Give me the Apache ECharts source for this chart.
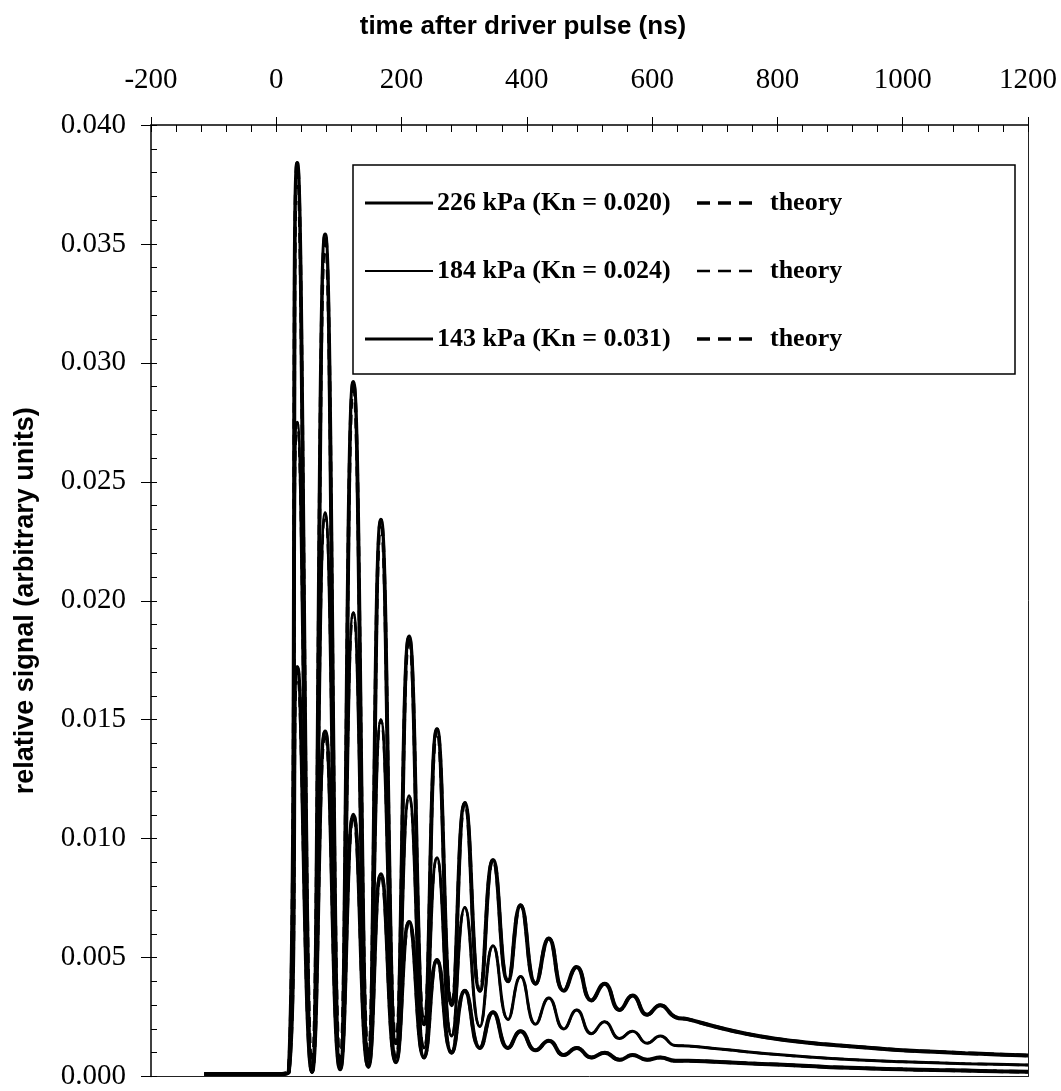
<!DOCTYPE html>
<html>
<head>
<meta charset="utf-8">
<script src="https://cdn.jsdelivr.net/npm/echarts@6/dist/echarts.min.js"></script>
<style>
html,body{margin:0;padding:0;background:#fff;}
#chart{width:1061px;height:1091px;}
</style>
</head>
<body>
<div id="chart"></div>
<script>
// time after driver pulse (ns)
const timeNs = [-115, -60, 0, 20, 33.5, 57, 78, 102, 123, 147, 167, 191, 212, 236, 256.5, 280, 301, 325, 346, 370,
  390, 414, 435, 459, 479.5, 503, 524, 548, 568.7, 592, 613, 637, 658, 700, 750, 800, 850, 900, 950, 1000,
  1050, 1100, 1150, 1200];
// measured relative signal
const sig226 = [0.0001, 0.0001, 0.0001, 0.0002, 0.0384, 0.0002, 0.0354, 0.0004, 0.0292, 0.0008, 0.0234, 0.0014, 0.0185, 0.0022, 0.0146, 0.0030, 0.0115, 0.0036, 0.0091, 0.0040,
  0.0072, 0.0039, 0.0058, 0.0036, 0.0046, 0.0032, 0.0039, 0.0028, 0.0034, 0.0026, 0.0030, 0.0025, 0.0024, 0.0021, 0.0018, 0.00158, 0.00142, 0.0013, 0.0012, 0.0011,
  0.00104, 0.00098, 0.00093, 0.00088];
const sig184 = [0.0001, 0.0001, 0.0001, 0.0002, 0.0275, 0.0002, 0.0237, 0.0003, 0.0195, 0.0005, 0.0150, 0.0008, 0.0118, 0.0012, 0.0092, 0.0017, 0.0071, 0.0021, 0.0055, 0.0024,
  0.0042, 0.0022, 0.0033, 0.0020, 0.0028, 0.0018, 0.0023, 0.0016, 0.0019, 0.0014, 0.0017, 0.0013, 0.00128, 0.00118, 0.00104, 0.00092, 0.00082, 0.00074, 0.00067, 0.00062,
  0.00058, 0.00054, 0.00051, 0.00048];
const sig143 = [0.0001, 0.0001, 0.0001, 0.0002, 0.0172, 0.0002, 0.0145, 0.0003, 0.0110, 0.0004, 0.0085, 0.0006, 0.0065, 0.0008, 0.0049, 0.0010, 0.0036, 0.0012, 0.0027, 0.0012,
  0.0019, 0.0011, 0.0015, 0.0009, 0.0012, 0.0008, 0.0010, 0.0007, 0.0009, 0.0007, 0.0008, 0.00066, 0.00066, 0.00062, 0.00056, 0.0005, 0.00044, 0.00038, 0.00034, 0.0003,
  0.00027, 0.00025, 0.00022, 0.0002];
// theory curves coincide with the measurements (drawn from t = 0)
const theory226 = sig226;
const theory184 = sig184;
const theory143 = sig143;
const theoryStart = 2;

const legendLabels = ['226 kPa (Kn = 0.020)', '184 kPa (Kn = 0.024)', '143 kPa (Kn = 0.031)'];
const theoryLabel = 'theory';
const xTitle = 'time after driver pulse (ns)';
const yTitle = 'relative signal (arbitrary units)';

const pairs = (ys, from) => timeNs.slice(from || 0).map((t, i) => [t, ys[i + (from || 0)]]);

const chart = echarts.init(document.getElementById('chart'), null, {renderer: 'canvas'});
const serif = 'Liberation Serif';
const sans = 'Liberation Sans';
const black = '#000';

function lineSeries(name, ys, width, dashed, from) {
  return {
    name: name, type: 'line', data: pairs(ys, from), xAxisIndex: 0, yAxisIndex: 0,
    showSymbol: false, symbol: 'none', smooth: 0.5, animation: false, silent: true,
    lineStyle: {color: black, width: width, type: dashed ? [10, 6] : 'solid'},
    z: dashed ? 4 : 3
  };
}

const rows = [203, 271, 339];
const widths = [3, 1.8, 3];
const graphics = [
  {type: 'rect', shape: {x: 353, y: 165, width: 662, height: 209}, style: {fill: '#fff', stroke: black, lineWidth: 1.5}, z: 10}
];
rows.forEach((y, i) => {
  graphics.push({type: 'line', shape: {x1: 365, y1: y, x2: 433, y2: y}, style: {stroke: black, lineWidth: widths[i]}, z: 11});
  graphics.push({type: 'text', x: 437, y: y, style: {text: legendLabels[i], font: 'bold 26px "' + serif + '"', fill: black, textVerticalAlign: 'middle', textAlign: 'left'}, z: 11});
  graphics.push({type: 'line', shape: {x1: 697, y1: y, x2: 752, y2: y}, style: {stroke: black, lineWidth: widths[i] + 0.5, lineDash: [13, 8]}, z: 11});
  graphics.push({type: 'text', x: 770, y: y, style: {text: theoryLabel, font: 'bold 26px "' + serif + '"', fill: black, textVerticalAlign: 'middle', textAlign: 'left'}, z: 11});
});
graphics.push({type: 'text', x: 523, y: 27, style: {text: xTitle, font: 'bold 26px "' + sans + '"', fill: black, textAlign: 'center', textVerticalAlign: 'middle'}, z: 11});

const noZero = extra => Object.assign({show: true, onZero: false}, extra);

const option = {
  backgroundColor: '#fff',
  animation: false,
  grid: {left: 151, right: 33, top: 125, bottom: 12, containLabel: false},
  xAxis: [
    {type: 'value', position: 'top', min: -200, max: 1200, interval: 200,
      axisLine: noZero({lineStyle: {color: black, width: 1.5}}),
      axisTick: {show: true, inside: true, length: 7, lineStyle: {color: black, width: 1}},
      minorTick: {show: true, splitNumber: 5, length: 7, lineStyle: {color: black, width: 1}},
      splitLine: {show: false}, minorSplitLine: {show: false},
      axisLabel: {show: true, margin: 30, color: black, fontFamily: serif, fontSize: 29,
        formatter: v => String(v)}
    },
    {type: 'value', position: 'top', min: -200, max: 1200, interval: 200,
      axisLine: noZero({show: false}),
      axisTick: {show: true, inside: false, length: 8, lineStyle: {color: black, width: 1}},
      splitLine: {show: false}, axisLabel: {show: false}
    },
    {type: 'value', position: 'bottom', min: -200, max: 1200, interval: 200,
      axisLine: noZero({lineStyle: {color: '#222', width: 1}}), axisTick: {show: false},
      splitLine: {show: false}, axisLabel: {show: false}
    }
  ],
  yAxis: [
    {type: 'value', position: 'left', min: 0, max: 0.04, interval: 0.005,
      name: yTitle, nameLocation: 'middle', nameRotate: 90, nameGap: 112,
      nameTextStyle: {color: black, fontFamily: sans, fontWeight: 'bold', fontSize: 27},
      axisLine: noZero({lineStyle: {color: black, width: 1.5}}),
      axisTick: {show: true, inside: true, length: 6, lineStyle: {color: black, width: 1}},
      minorTick: {show: true, splitNumber: 5, length: 6, lineStyle: {color: black, width: 1}},
      splitLine: {show: false}, minorSplitLine: {show: false},
      axisLabel: {show: true, margin: 25, color: black, fontFamily: serif, fontSize: 29,
        formatter: v => v.toFixed(3)}
    },
    {type: 'value', position: 'left', min: 0, max: 0.04, interval: 0.005,
      axisLine: noZero({show: false}),
      axisTick: {show: true, inside: false, length: 10, lineStyle: {color: black, width: 1}},
      splitLine: {show: false}, axisLabel: {show: false}
    },
    {type: 'value', position: 'right', min: 0, max: 0.04, interval: 0.005,
      axisLine: noZero({lineStyle: {color: '#222', width: 1}}), axisTick: {show: false},
      splitLine: {show: false}, axisLabel: {show: false}
    }
  ],
  graphic: graphics,
  series: [
    lineSeries('226 kPa', sig226, 4, false, 0),
    lineSeries('184 kPa', sig184, 3, false, 0),
    lineSeries('143 kPa', sig143, 4, false, 0),
    lineSeries('theory 226', theory226, 3.5, true, theoryStart),
    lineSeries('theory 184', theory184, 2.5, true, theoryStart),
    lineSeries('theory 143', theory143, 3.5, true, theoryStart)
  ]
};
chart.setOption(option);
</script>
</body>
</html>
